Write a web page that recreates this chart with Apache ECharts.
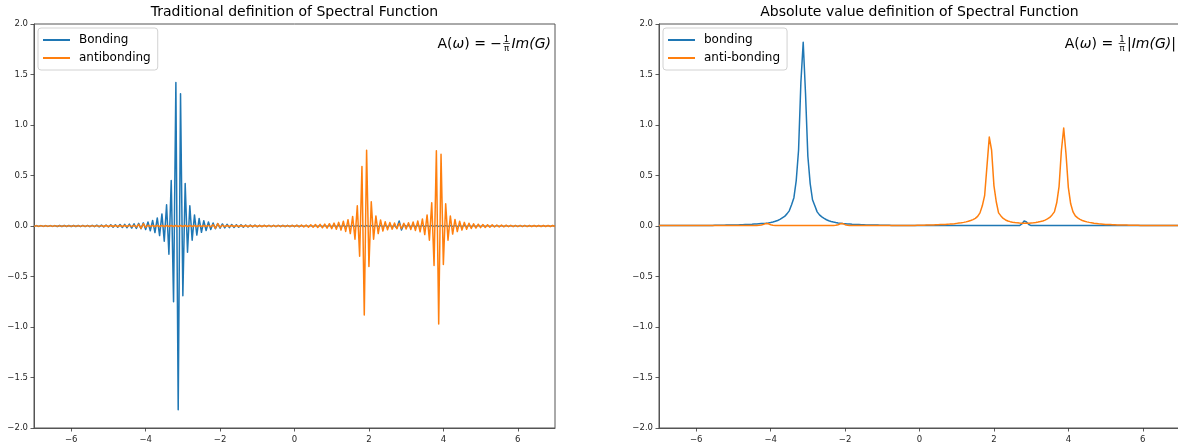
<!DOCTYPE html>
<html><head><meta charset="utf-8">
<script src="https://cdn.jsdelivr.net/npm/echarts@6/dist/echarts.min.js"></script>
<style>html,body{margin:0;padding:0;background:#fff}#c{width:1178px;height:447px}</style>
</head><body><div id="c"></div>
<script>
// ---- data ----
const omega = [
-7,-6.9375,-6.875,-6.8125,-6.75,-6.6875,-6.625,-6.5625,-6.5,-6.4375,-6.375,-6.3125,-6.25,-6.1875,-6.125,-6.0625,
-6,-5.9375,-5.875,-5.8125,-5.75,-5.6875,-5.625,-5.5625,-5.5,-5.4375,-5.375,-5.3125,-5.25,-5.1875,-5.125,-5.0625,
-5,-4.9375,-4.875,-4.8125,-4.75,-4.6875,-4.625,-4.5625,-4.5,-4.4375,-4.375,-4.3125,-4.25,-4.1875,-4.125,-4.0625,
-4,-3.9375,-3.875,-3.8125,-3.75,-3.6875,-3.625,-3.5625,-3.5,-3.4375,-3.375,-3.3125,-3.25,-3.1875,-3.125,-3.0625,
-3,-2.9375,-2.875,-2.8125,-2.75,-2.6875,-2.625,-2.5625,-2.5,-2.4375,-2.375,-2.3125,-2.25,-2.1875,-2.125,-2.0625,
-2,-1.9375,-1.875,-1.8125,-1.75,-1.6875,-1.625,-1.5625,-1.5,-1.4375,-1.375,-1.3125,-1.25,-1.1875,-1.125,-1.0625,
-1,-0.9375,-0.875,-0.8125,-0.75,-0.6875,-0.625,-0.5625,-0.5,-0.4375,-0.375,-0.3125,-0.25,-0.1875,-0.125,-0.0625,
0,0.0625,0.125,0.1875,0.25,0.3125,0.375,0.4375,0.5,0.5625,0.625,0.6875,0.75,0.8125,0.875,0.9375,
1,1.0625,1.125,1.1875,1.25,1.3125,1.375,1.4375,1.5,1.5625,1.625,1.6875,1.75,1.8125,1.875,1.9375,
2,2.0625,2.125,2.1875,2.25,2.3125,2.375,2.4375,2.5,2.5625,2.625,2.6875,2.75,2.8125,2.875,2.9375,
3,3.0625,3.125,3.1875,3.25,3.3125,3.375,3.4375,3.5,3.5625,3.625,3.6875,3.75,3.8125,3.875,3.9375,
4,4.0625,4.125,4.1875,4.25,4.3125,4.375,4.4375,4.5,4.5625,4.625,4.6875,4.75,4.8125,4.875,4.9375,
5,5.0625,5.125,5.1875,5.25,5.3125,5.375,5.4375,5.5,5.5625,5.625,5.6875,5.75,5.8125,5.875,5.9375,
6,6.0625,6.125,6.1875,6.25,6.3125,6.375,6.4375,6.5,6.5625,6.625,6.6875,6.75,6.8125,6.875,6.9375,
7];

// left panel: A = -(1/pi) Im G
const bondingTrad = [
-.004,.004,-.004,.004,-.004,.004,-.004,.004,-.004,.004,-.005,.005,-.005,.005,-.005,.005,
-.005,.005,-.005,.005,-.006,.006,-.006,.006,-.007,.007,-.007,.008,-.008,.009,-.009,.010,
-.010,.011,-.011,.012,-.013,.014,-.015,.016,-.017,.019,-.020,.022,-.024,.026,-.028,.031,
-.035,.040,-.047,.055,-.065,.080,-.095,.120,-.150,.210,-.280,.450,-.750,1.420,-1.820,1.310,
-.690,.420,-.260,.200,-.140,.110,-.090,.075,-.062,.052,-.045,.039,-.034,.030,-.027,.024,
-.022,.020,-.019,.017,-.016,.015,-.014,.013,-.012,.011,-.011,.010,-.010,.009,-.009,.008,
-.008,.007,-.007,.007,-.006,.006,-.006,.006,-.006,.006,-.005,.005,-.005,.005,-.005,.005,
-.005,.005,-.005,.005,-.004,.004,-.004,.004,-.004,.004,-.004,.004,-.004,.004,-.004,.004,
-.004,.004,-.004,.004,-.004,.004,-.004,.004,-.004,.004,-.004,.004,-.004,.004,-.004,.004,
-.004,.004,-.004,.004,-.004,.004,-.004,.004,-.004,.004,-.004,.004,-.020,.050,-.040,.015,
-.004,.004,-.004,.004,-.004,.004,-.004,.004,-.004,.004,-.004,.004,-.004,.004,-.004,.004,
-.004,.004,-.004,.004,-.004,.004,-.004,.004,-.004,.004,-.004,.004,-.004,.004,-.004,.004,
-.004,.004,-.004,.004,-.004,.004,-.004,.004,-.004,.004,-.004,.004,-.004,.004,-.004,.004,
-.004,.004,-.004,.004,-.004,.004,-.004,.004,-.004,.004,-.004,.004,-.004,.004,-.004,.004,
-.004];

const antibondingTrad = [
-.004,.004,-.004,.004,-.004,.004,-.004,.004,-.004,.004,-.004,.004,-.004,.004,-.004,.004,
-.004,.004,-.004,.004,-.004,.004,-.004,.004,-.004,.004,-.004,.004,-.004,.004,-.005,.005,
-.005,.005,-.005,.005,-.005,.005,-.005,.005,-.005,.006,-.006,.007,-.010,.016,-.024,.022,
-.012,.008,-.006,.005,-.005,.005,-.005,.005,-.005,.005,-.005,.005,-.005,.005,-.005,.005,
-.005,.005,-.005,.005,-.005,.005,-.005,.005,-.005,.005,-.005,.006,-.008,.013,-.022,.024,
-.013,.008,-.006,.005,-.005,.005,-.005,.005,-.005,.005,-.005,.005,-.005,.005,-.005,.005,
-.005,.005,-.005,.005,-.005,.006,-.006,.006,-.006,.006,-.006,.006,-.006,.006,-.006,.007,
-.007,.008,-.008,.009,-.009,.010,-.011,.012,-.013,.014,-.015,.016,-.018,.019,-.021,.023,
-.026,.029,-.032,.036,-.041,.047,-.054,.063,-.075,.095,-.130,.200,-.300,.590,-.880,.750,
-.400,.240,-.130,.100,-.075,.060,-.050,.043,-.038,.034,-.031,.029,-.028,.027,-.027,.028,
-.030,.032,-.035,.039,-.044,.050,-.058,.070,-.085,.110,-.140,.230,-.390,.745,-.970,.710,
-.380,.220,-.140,.100,-.080,.065,-.055,.047,-.041,.036,-.032,.028,-.025,.022,-.020,.018,
-.016,.015,-.014,.013,-.012,.011,-.010,.010,-.009,.009,-.008,.008,-.007,.007,-.007,.006,
-.006,.006,-.006,.006,-.006,.005,-.005,.005,-.005,.005,-.005,.005,-.005,.005,-.005,.005,
-.005];

// right panel: A = (1/pi) |Im G|
const bondingAbs = [
.004,.004,.004,.004,.004,.004,.004,.004,.004,.004,.005,.005,.005,.005,.005,.005,
.005,.005,.005,.005,.006,.006,.006,.006,.007,.007,.007,.008,.008,.009,.009,.010,
.010,.011,.011,.012,.013,.014,.015,.016,.017,.019,.020,.022,.024,.026,.028,.031,
.035,.040,.047,.055,.065,.080,.095,.120,.150,.210,.280,.450,.750,1.420,1.820,1.310,
.690,.420,.260,.200,.140,.110,.090,.075,.062,.052,.045,.039,.034,.030,.027,.024,
.022,.020,.019,.017,.016,.015,.014,.013,.012,.011,.011,.010,.010,.009,.009,.008,
.008,.007,.007,.007,.006,.006,.006,.006,.006,.006,.005,.005,.005,.005,.005,.005,
.005,.005,.005,.005,.004,.004,.004,.004,.004,.004,.004,.004,.004,.004,.004,.004,
.004,.004,.004,.004,.004,.004,.004,.004,.004,.004,.004,.004,.004,.004,.004,.004,
.004,.004,.004,.004,.004,.004,.004,.004,.004,.004,.004,.004,.020,.050,.040,.015,
.004,.004,.004,.004,.004,.004,.004,.004,.004,.004,.004,.004,.004,.004,.004,.004,
.004,.004,.004,.004,.004,.004,.004,.004,.004,.004,.004,.004,.004,.004,.004,.004,
.004,.004,.004,.004,.004,.004,.004,.004,.004,.004,.004,.004,.004,.004,.004,.004,
.004,.004,.004,.004,.004,.004,.004,.004,.004,.004,.004,.004,.004,.004,.004,.004,
.004];

const antibondingAbs = [
.004,.004,.004,.004,.004,.004,.004,.004,.004,.004,.004,.004,.004,.004,.004,.004,
.004,.004,.004,.004,.004,.004,.004,.004,.004,.004,.004,.004,.004,.004,.005,.005,
.005,.005,.005,.005,.005,.005,.005,.005,.005,.006,.006,.007,.010,.016,.024,.022,
.012,.008,.006,.005,.005,.005,.005,.005,.005,.005,.005,.005,.005,.005,.005,.005,
.005,.005,.005,.005,.005,.005,.005,.005,.005,.005,.005,.006,.008,.013,.022,.024,
.013,.008,.006,.005,.005,.005,.005,.005,.005,.005,.005,.005,.005,.005,.005,.005,
.005,.005,.005,.005,.005,.006,.006,.006,.006,.006,.006,.006,.006,.006,.006,.007,
.007,.008,.008,.009,.009,.010,.011,.012,.013,.014,.015,.016,.018,.019,.021,.023,
.026,.029,.032,.036,.041,.047,.054,.063,.075,.095,.130,.200,.300,.590,.880,.750,
.400,.240,.130,.100,.075,.060,.050,.043,.038,.034,.031,.029,.028,.027,.027,.028,
.030,.032,.035,.039,.044,.050,.058,.070,.085,.110,.140,.230,.390,.745,.970,.710,
.380,.220,.140,.100,.080,.065,.055,.047,.041,.036,.032,.028,.025,.022,.020,.018,
.016,.015,.014,.013,.012,.011,.010,.010,.009,.009,.008,.008,.007,.007,.007,.006,
.006,.006,.006,.006,.006,.005,.005,.005,.005,.005,.005,.005,.005,.005,.005,.005,
.005];

const xTickValues = [-6, -4, -2, 0, 2, 4, 6];
const panelTitles = ['Traditional definition of Spectral Function', 'Absolute value definition of Spectral Function'];
const seriesNamesLeft = ['Bonding', 'antibonding'];
const seriesNamesRight = ['bonding', 'anti-bonding'];

// ---- chart ----
const FONT = '"DejaVu Sans", sans-serif';
const BLUE = '#1f77b4', ORANGE = '#ff7f0e';
const SPINE = '#555';
const grids = [
  { left: 34, top: 24, width: 521, height: 404 },
  { left: 659, top: 24, width: 521, height: 404 }
];
const minus = s => String(s).replace('-', '\u2212');
const pairs = ys => omega.map((x, i) => [x, ys[i]]);

function xAxis(i) {
  return {
    type: 'value', gridIndex: i, min: -7, max: 7,
    splitLine: { show: false },
    axisLine: { show: true, onZero: false, lineStyle: { color: SPINE, width: 1 } },
    axisTick: { show: true, inside: false, length: 3.5, lineStyle: { color: '#333', width: 0.8 }, customValues: xTickValues },
    axisLabel: { show: true, margin: 7, fontSize: 8.5, fontFamily: FONT, color: '#262626',
      customValues: xTickValues, formatter: v => minus(v) }
  };
}
function yAxis(i) {
  return {
    type: 'value', gridIndex: i, min: -2, max: 2, interval: 0.5,
    splitLine: { show: false },
    axisLine: { show: true, onZero: false, lineStyle: { color: SPINE, width: 1 } },
    axisTick: { show: true, inside: false, length: 3.5, lineStyle: { color: '#333', width: 0.8 } },
    axisLabel: { show: true, margin: 6, fontSize: 8.5, fontFamily: FONT, color: '#262626',
      formatter: v => minus(v.toFixed(1)) }
  };
}
function line(name, data, color, i) {
  return {
    name, type: 'line', xAxisIndex: i, yAxisIndex: i, data: pairs(data),
    showSymbol: false, symbol: 'none', silent: true, animation: false,
    lineStyle: { width: 1.5, color, join: 'round' }, itemStyle: { color },
    emphasis: { disabled: true }
  };
}
function legend(names, left) {
  return {
    data: names, left, top: 28, orient: 'vertical', icon: 'rect',
    itemWidth: 27, itemHeight: 2, itemGap: 4, padding: [5, 7, 5, 5],
    borderColor: '#d2d2d2', borderWidth: 1, borderRadius: 3, backgroundColor: '#fff',
    selectedMode: false,
    textStyle: { fontSize: 12, fontFamily: FONT, color: '#000', lineHeight: 14, padding: [0, 0, 0, 4] }
  };
}

// annotation text built right-to-left from the given right edge
function measure(text, font) {
  const c = document.createElement('canvas').getContext('2d');
  c.font = font; return c.measureText(text).width;
}
function annotation(rightX, cy, pre, bars) {
  const fs = 14;
  const normal = fs + 'px ' + FONT, italic = 'italic ' + fs + 'px ' + FONT, small = '8.5px ' + FONT;
  const els = [];
  let x = rightX;
  const txt = (t, xx, y, font, align) => ({ type: 'text', x: xx, y, silent: true,
    style: { text: t, font, fill: '#000', align: align || 'left', verticalAlign: 'middle' } });
  if (bars) { x -= measure('|', normal); els.push(txt('|', x, cy, normal)); }
  x -= measure('Im(G)', italic); els.push(txt('Im(G)', x, cy, italic));
  if (bars) { x -= measure('|', normal); els.push(txt('|', x, cy, normal)); }
  x -= 1.5;
  const fw = Math.max(measure('1', small), measure('\u03c0', small)) + 1.5;
  const fc = x - fw / 2;
  els.push(txt('1', fc, cy - 4.5, small, 'center'));
  els.push(txt('\u03c0', fc, cy + 4.5, small, 'center'));
  els.push({ type: 'line', silent: true, shape: { x1: fc - fw / 2, y1: cy - 0.5, x2: fc + fw / 2, y2: cy - 0.5 },
    style: { stroke: '#000', lineWidth: 0.7 } });
  x -= fw + 1;
  els.push({ type: 'text', x, y: cy, silent: true,
    style: { text: pre, font: normal, fill: '#000', align: 'right', verticalAlign: 'middle',
      rich: { w: { fontStyle: 'italic', fontSize: fs, fontFamily: FONT } } } });
  return els;
}

const titleEls = panelTitles.map((t, i) => ({
  type: 'text', x: grids[i].left + grids[i].width / 2, y: 12.5, silent: true,
  style: { text: t, font: '14px ' + FONT, fill: '#000', align: 'center', verticalAlign: 'middle' }
}));

const chart = echarts.init(document.getElementById('c'), null, { renderer: 'canvas' });
chart.setOption({
  animation: false,
  backgroundColor: '#fff',
  grid: grids.map(g => Object.assign({ show: true, borderColor: SPINE, borderWidth: 1,
    containLabel: false, outerBoundsMode: 'none' }, g)),
  xAxis: [xAxis(0), xAxis(1)],
  yAxis: [yAxis(0), yAxis(1)],
  legend: [legend(seriesNamesLeft, 38), legend(seriesNamesRight, 663)],
  series: [
    line(seriesNamesLeft[0], bondingTrad, BLUE, 0),
    line(seriesNamesLeft[1], antibondingTrad, ORANGE, 0),
    line(seriesNamesRight[0], bondingAbs, BLUE, 1),
    line(seriesNamesRight[1], antibondingAbs, ORANGE, 1)
  ],
  graphic: [].concat(
    titleEls,
    annotation(551, 44, 'A({w|\u03c9}) = \u2212', false),
    annotation(1176, 44, 'A({w|\u03c9}) = ', true)
  )
});
</script>
</body></html>
